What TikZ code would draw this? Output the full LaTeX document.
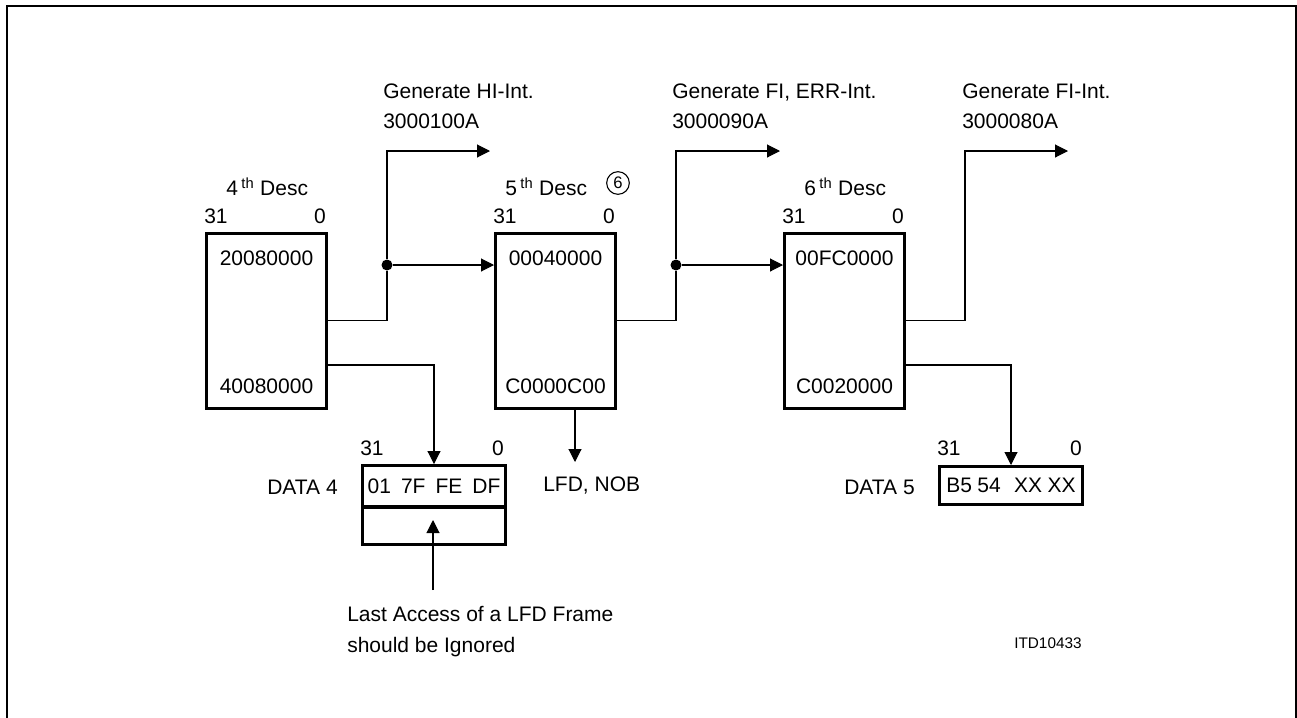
\documentclass[tikz,border=0pt]{standalone}
\usepackage{fontspec}
\setmainfont{Liberation Sans}
\usetikzlibrary{arrows.meta}
\begin{document}
\begin{tikzpicture}[x=0.75pt,y=-0.75pt,
  lbl/.style={font=\fontsize{15.75pt}{18pt}\selectfont, inner sep=0pt},
  small/.style={font=\fontsize{11.5pt}{14pt}\selectfont, inner sep=0pt},
  descbox/.style={draw, line width=2.25pt, minimum width=90pt, minimum height=131.25pt, inner sep=0pt},
  databox/.style={draw, line width=2.25pt, minimum width=107.25pt, inner sep=0pt,
    font=\fontsize{15.75pt}{18pt}\selectfont},
  conn/.style={line width=0.8pt},
  arr/.style={conn, -{Triangle[length=9.75pt,width=9.75pt]}},
  jdot/.style={circle, fill, inner sep=0pt, minimum size=8.25pt},
  frame/.style={line width=1.6pt}]
\useasboundingbox (0,0) rectangle (1297,718);
\draw[frame] (7,6) rectangle (1296,740);

% descriptor boxes
\node[descbox] (b4) at (266.5,320.5) {};
\node[descbox] (b5) at (555.5,320.5) {};
\node[descbox] (b6) at (844.5,320.5) {};

\node[lbl, anchor=base] (b4t) at (266.5,265) {20080000};
\node[lbl, anchor=base] (b4b) at (266.5,393) {40080000};
\node[lbl, anchor=base] (b5t) at (555.5,265) {00040000};
\node[lbl, anchor=base] (b5b) at (555.5,393) {C0000C00};
\node[lbl, anchor=base] (b6t) at (844.5,265) {00FC0000};
\node[lbl, anchor=base] (b6b) at (844.5,393) {C0020000};

% titles
\node[lbl, anchor=base west] (d4title) at (226,195) {4\,\textsuperscript{th} Desc};
\node[lbl, anchor=base west] (d5title) at (505,195) {5\,\textsuperscript{th} Desc};
\node[lbl, anchor=base west] (d6title) at (804,195) {6\,\textsuperscript{th} Desc};
\node[circle, draw, line width=0.8pt, minimum size=17pt, inner sep=0pt,
  font=\fontsize{12.5pt}{14pt}\selectfont] (c6) at (618,183) {6};

% bit numbers
\node[lbl, anchor=base west] (b4hi) at (204,223) {31};
\node[lbl, anchor=base east] (b4lo) at (326,223) {0};
\node[lbl, anchor=base west] (b5hi) at (493,223) {31};
\node[lbl, anchor=base east] (b5lo) at (615,223) {0};
\node[lbl, anchor=base west] (b6hi) at (782,223) {31};
\node[lbl, anchor=base east] (b6lo) at (904,223) {0};

% generate labels
\node[lbl, anchor=base west] (g1a) at (383,98) {Generate HI-Int.};
\node[lbl, anchor=base west] (g1b) at (383,128) {3000100A};
\node[lbl, anchor=base west] (g2a) at (672,98) {Generate FI, ERR-Int.};
\node[lbl, anchor=base west] (g2b) at (672,128) {3000090A};
\node[lbl, anchor=base west] (g3a) at (962,98) {Generate FI-Int.};
\node[lbl, anchor=base west] (g3b) at (962,128) {3000080A};

% junctions and arrow ends
\node[jdot] (j1) at (387,265) {};
\node[jdot] (j2) at (676,265) {};
\coordinate (t1) at (490,151);
\coordinate (t2) at (780,151);
\coordinate (t3) at (1068,151);

\draw[conn] (b4.east) -| (j1);
\draw[arr] (j1) |- (t1);
\draw[arr] (j1) -- (b5.west |- j1);
\draw[conn] (b5.east) -| (j2);
\draw[arr] (j2) |- (t2);
\draw[arr] (j2) -- (b6.west |- j2);
\draw[arr] (b6.east) -| (965,151) -- (t3);

% DATA 4
\node[databox, minimum height=31.1pt] (d4a) at (434,486.25) {01\hspace{7.5pt}7F\hspace{7.5pt}FE\hspace{7.5pt}DF};
\node[databox, minimum height=28.1pt] (d4b) at (434,525.75) {};
\node[lbl, anchor=base east] (d4name) at (338,494) {DATA 4};
\node[lbl, anchor=base west] (d4hi) at (360,455) {31};
\node[lbl, anchor=base east] (d4lo) at (504,455) {0};
\draw[arr] (b4.east |- 0,365) -| (d4a.north);

% DATA 5
\node[databox, minimum height=28.5pt] (d5) at (1011,485.5) {B5\hspace{4pt}54\hspace{10pt}XX\hspace{4pt}XX};
\node[lbl, anchor=base east] (d5name) at (915,494) {DATA 5};
\node[lbl, anchor=base west] (d5hi) at (937,455) {31};
\node[lbl, anchor=base east] (d5lo) at (1082,455) {0};
\draw[arr] (b6.east |- 0,365) -| (d5.north);

% LFD, NOB
\node[lbl, anchor=base west] (lfd) at (543,491) {LFD, NOB};
\coordinate (lfdtip) at (575,462);
\draw[arr] (575,0 |- b5.south) -- (lfdtip);

% last access note
\node[lbl, anchor=base west] (note1) at (347,621) {Last Access of a LFD Frame};
\node[lbl, anchor=base west] (note2) at (347,652) {should be Ignored};
\coordinate (notesrc) at (433,590);
\coordinate (notetip) at (433,520);
\draw[arr] (notesrc) -- (notetip);

% figure id
\node[small, anchor=base west] (itd) at (1014,648) {ITD10433};
\end{tikzpicture}
\end{document}
